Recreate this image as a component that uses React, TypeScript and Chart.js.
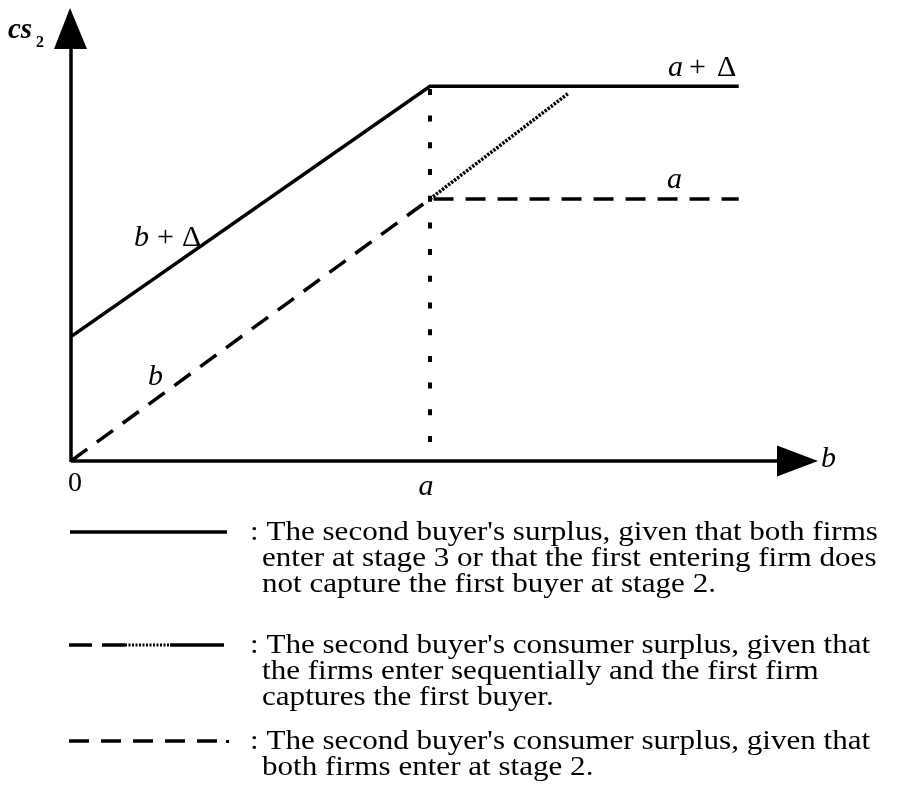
import React, { useEffect, useRef } from "react";
import { Chart, registerables } from "chart.js";

Chart.register(...registerables);

// Horizontal positions in units of b (a = 10)
const A_VALUE = 10;
const X_END = 18.6;
const DOTTED_END_X = 13.87;

// Surplus values
const solidY = [4.75, 14.3, 14.3]; // b + Δ, then a + Δ
const solidX = [0, A_VALUE, X_END];
const dashedY = [0, 10, 10]; // b, then a
const dashedX = [0, A_VALUE, X_END];
const dottedX = [A_VALUE, DOTTED_END_X];
const dottedY = [10, 14.05];
const guideX = [A_VALUE, A_VALUE];
const guideY = [0.725, 14.3];

const legendLines = [
  [
    ": The second buyer's surplus, given that both firms",
    "enter at stage 3 or that the first entering firm does",
    "not capture the first buyer at stage 2.",
  ],
  [
    ": The second buyer's consumer surplus, given that",
    "the firms enter sequentially and the first firm",
    "captures the first buyer.",
  ],
  [
    ": The second buyer's consumer surplus, given that",
    "both firms enter at stage 2.",
  ],
];

const W = 902;
const H = 811;
const SERIF = "'Liberation Serif', 'Times New Roman', serif";

function pts(xs: number[], ys: number[]) {
  return xs.map((x, i) => ({ x, y: ys[i] }));
}

const overlay = {
  id: "overlay",
  afterDraw(chart: any) {
    const ctx: CanvasRenderingContext2D = chart.ctx;
    const xs = chart.scales.x;
    const ys = chart.scales.y;
    const ox = xs.getPixelForValue(0);
    const oy = ys.getPixelForValue(0);
    ctx.save();
    ctx.fillStyle = "#000";
    ctx.strokeStyle = "#000";
    ctx.lineWidth = 3.5;
    ctx.lineCap = "butt";

    // axes
    ctx.beginPath();
    ctx.moveTo(ox, oy + 1);
    ctx.lineTo(ox, 49);
    ctx.moveTo(ox, oy);
    ctx.lineTo(777, oy);
    ctx.stroke();
    // arrow heads
    ctx.beginPath();
    ctx.moveTo(ox - 1, 8);
    ctx.lineTo(ox - 17, 49);
    ctx.lineTo(ox + 16, 49);
    ctx.closePath();
    ctx.fill();
    ctx.beginPath();
    ctx.moveTo(818, oy);
    ctx.lineTo(777, oy - 15.5);
    ctx.lineTo(777, oy + 15.5);
    ctx.closePath();
    ctx.fill();

    ctx.textBaseline = "alphabetic";
    ctx.textAlign = "left";

    // axis titles
    ctx.font = `bold italic 29px ${SERIF}`;
    ctx.fillText("cs", 8, 38);
    ctx.font = `bold 16px ${SERIF}`;
    ctx.fillText("2", 36, 47);
    ctx.font = `italic 30px ${SERIF}`;
    ctx.fillText("b", 821, 467);

    // tick labels
    ctx.font = `28px ${SERIF}`;
    ctx.textAlign = "center";
    ctx.fillText("0", ox + 4, 491);
    ctx.font = `italic 30px ${SERIF}`;
    ctx.fillText("a", xs.getPixelForValue(A_VALUE) - 4, 495);
    ctx.textAlign = "left";

    // line labels
    const up = `30px ${SERIF}`;
    const it = `italic 30px ${SERIF}`;
    ctx.font = it;
    ctx.fillText("a", 668, 76);
    ctx.font = up;
    ctx.fillText("+", 689, 76);
    ctx.fillText("Δ", 717, 76);
    ctx.font = it;
    ctx.fillText("a", 667, 188);
    ctx.fillText("b", 134, 246);
    ctx.font = up;
    ctx.fillText("+", 157, 246);
    ctx.fillText("Δ", 182, 246);
    ctx.font = it;
    ctx.fillText("b", 148, 385);

    // legend swatches
    ctx.lineWidth = 3.5;
    ctx.beginPath();
    ctx.moveTo(70, 532);
    ctx.lineTo(227, 532);
    ctx.stroke();

    ctx.beginPath();
    ctx.moveTo(69, 645);
    ctx.lineTo(92, 645);
    ctx.moveTo(102, 645);
    ctx.lineTo(125, 645);
    ctx.moveTo(170, 645);
    ctx.lineTo(224, 645);
    ctx.stroke();
    ctx.lineWidth = 3;
    ctx.setLineDash([2, 1.5]);
    ctx.beginPath();
    ctx.moveTo(125, 645);
    ctx.lineTo(170, 645);
    ctx.stroke();
    ctx.setLineDash([20, 12]);
    ctx.lineWidth = 3.5;
    ctx.beginPath();
    ctx.moveTo(69, 741);
    ctx.lineTo(221, 741);
    ctx.stroke();
    ctx.setLineDash([]);
    ctx.fillRect(226, 740, 3, 3);

    // legend text, set slightly wide like the printed face
    ctx.font = `28px ${SERIF}`;
    const baselines = [540, 653, 749];
    legendLines.forEach((lines, i) => {
      lines.forEach((t, j) => {
        ctx.save();
        ctx.translate(j === 0 ? 250 : 262, baselines[i] + j * 26);
        ctx.scale(1.11, 1);
        ctx.fillText(t, 0, 0);
        ctx.restore();
      });
    });
    ctx.restore();
  },
};

export default function App() {
  const ref = useRef<HTMLCanvasElement>(null);
  useEffect(() => {
    const canvas = ref.current!;
    const base = { pointRadius: 0, borderColor: "#000", showLine: true, fill: false, tension: 0 };
    const chart = new Chart(canvas, {
      type: "scatter",
      data: {
        datasets: [
          { ...base, data: pts(solidX, solidY), borderWidth: 3.5 },
          { ...base, data: pts(dashedX, dashedY), borderWidth: 3.5, borderDash: [20, 12] },
          { ...base, data: pts(dottedX, dottedY), borderWidth: 3.5, borderDash: [2.4, 1.4] },
          { ...base, data: pts(guideX, guideY), borderWidth: 4, borderDash: [6, 20.7] },
        ],
      },
      options: {
        animation: false,
        responsive: false,
        devicePixelRatio: 1,
        layout: { padding: { left: 71, right: W - 789, top: 461 - 17 * 26.2, bottom: H - 461 } },
        scales: {
          x: { type: "linear", min: 0, max: 20, display: false },
          y: { type: "linear", min: 0, max: 17, display: false },
        },
        plugins: { legend: { display: false }, tooltip: { enabled: false } },
      },
      plugins: [
        {
          id: "bg",
          beforeDraw(c: any) {
            c.ctx.save();
            c.ctx.fillStyle = "#fff";
            c.ctx.fillRect(0, 0, c.width, c.height);
            c.ctx.restore();
          },
        },
        overlay,
      ],
    });
    return () => chart.destroy();
  }, []);
  return (
    <canvas
      ref={ref}
      width={W}
      height={H}
      style={{ position: "absolute", left: 0, top: 0, width: W, height: H }}
    />
  );
}
